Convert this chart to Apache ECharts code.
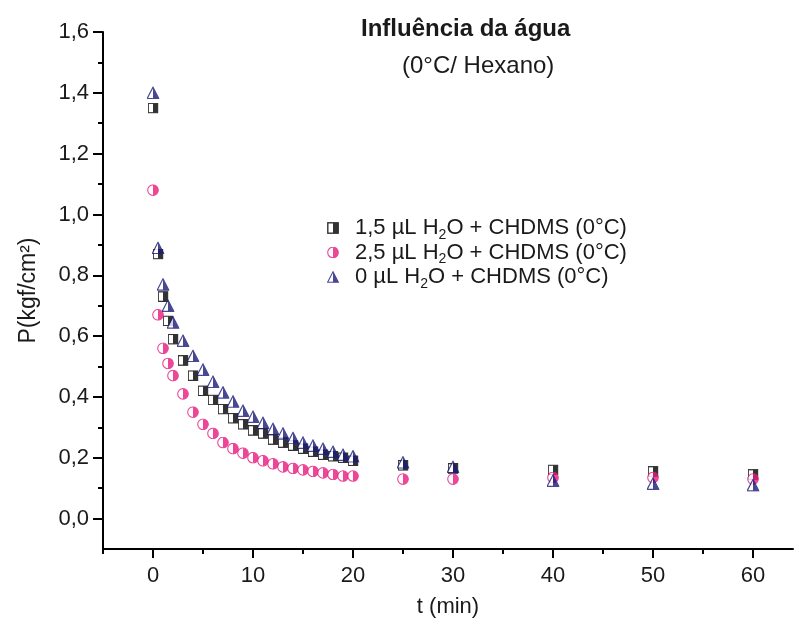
<!DOCTYPE html>
<html>
<head>
<meta charset="utf-8">
<script src="https://cdn.jsdelivr.net/npm/echarts@6/dist/echarts.min.js"></script>
<style>html,body{margin:0;padding:0;background:#fff}#c{width:799px;height:633px}</style>
</head>
<body>
<div id="c"></div>
<script>
const timeMin = [0,0.5,1,1.5,2,3,4,5,6,7,8,9,10,11,12,13,14,15,16,17,18,19,20,25,30,40,50,60];
const water15 = [1.35,0.87,0.73,0.65,0.59,0.52,0.47,0.42,0.39,0.36,0.33,0.31,0.29,0.28,0.26,0.25,0.24,0.23,0.22,0.21,0.205,0.20,0.19,0.175,0.165,0.16,0.155,0.145];
const water25 = [1.08,0.67,0.56,0.51,0.47,0.41,0.35,0.31,0.28,0.25,0.23,0.215,0.20,0.19,0.18,0.17,0.165,0.16,0.155,0.15,0.145,0.14,0.14,0.13,0.13,0.135,0.135,0.13];
const water0 = [1.40,0.89,0.77,0.70,0.645,0.585,0.535,0.49,0.45,0.415,0.385,0.355,0.335,0.315,0.295,0.28,0.265,0.25,0.24,0.23,0.22,0.21,0.205,0.185,0.17,0.125,0.115,0.11];
const seriesNames = ['1,5 µL H2O + CHDMS (0°C)','2,5 µL H2O + CHDMS (0°C)','0 µL H2O + CHDMS (0°C)'];
const xMajorTicks = [0,10,20,30,40,50,60];
const xMinorTicks = [-5,5,15,25,35,45,55];
const yMajorTicks = [0,0.2,0.4,0.6,0.8,1.0,1.2,1.4,1.6];
const yMinorTicks = [0.1,0.3,0.5,0.7,0.9,1.1,1.3,1.5];

function svgSym(svg){ return 'image://data:image/svg+xml;charset=utf-8,' + encodeURIComponent(svg); }
const symSquare = svgSym('<svg xmlns="http://www.w3.org/2000/svg" width="24" height="24" viewBox="0 0 12 12"><rect x="0.8" y="0.8" width="10.4" height="10.4" fill="#fff" stroke="#000" stroke-width="1.4"/><rect x="6" y="0.8" width="5.2" height="10.4" fill="#000"/></svg>');
const symCircle = svgSym('<svg xmlns="http://www.w3.org/2000/svg" width="24" height="24" viewBox="0 0 12 12"><circle cx="6" cy="6" r="5.3" fill="#fff" stroke="#e8197e" stroke-width="1.1"/><path d="M6,0.7 A5.3,5.3 0 0 1 6,11.3 Z" fill="#e8197e"/></svg>');
const symTri = svgSym('<svg xmlns="http://www.w3.org/2000/svg" width="24" height="24" viewBox="0 0 12 12"><polygon points="6,0.8 11.4,11.3 0.6,11.3" fill="#fff" stroke="#1b1b78" stroke-width="1.1" stroke-linejoin="miter"/><polygon points="6,0.8 11.4,11.3 6,11.3" fill="#1b1b78"/></svg>');

function pairs(xs, ys){ return xs.map((x,i)=>[x, ys[i]]); }
const font = 'Liberation Sans, Arial, sans-serif';
const txt = '#1a1a1a';

const chart = echarts.init(document.getElementById('c'), null, {renderer:'canvas'});
chart.setOption({
  animation: false,
  backgroundColor: '#fff',
  title: [
    {text: 'Influência da água', left: 361, top: 17, padding: 0, textStyle: {fontFamily: font, fontSize: 24, fontWeight: 'bold', color: txt}},
    {text: '(0°C/ Hexano)', left: 402, top: 54, padding: 0, textStyle: {fontFamily: font, fontSize: 24, fontWeight: 'normal', color: txt}}
  ],
  legend: {
    orient: 'vertical', left: 327, top: 214, padding: 0, itemGap: -3.5, itemWidth: 12, itemHeight: 12,
    data: seriesNames,
    formatter: function(n){ return '{a|' + n.replace('H2O', 'H}{s|2}{a|O') + '}'; },
    textStyle: {
      fontFamily: font, fontSize: 22, color: txt, padding: [0,0,0,11],
      rich: {
        a: {fontFamily: font, fontSize: 22, color: txt, lineHeight: 22},
        s: {fontFamily: font, fontSize: 14, color: txt, lineHeight: 14, padding: [14,0,0,0]}
      }
    }
  },
  grid: {left: 103, right: 6, top: 32, bottom: 84, containLabel: false},
  xAxis: [
    {type: 'value', min: -5, max: 64, position: 'bottom',
     name: 't (min)', nameLocation: 'middle', nameGap: 47,
     nameTextStyle: {fontFamily: font, fontSize: 22, color: txt},
     axisLine: {show: true, onZero: false, lineStyle: {color: '#000', width: 2}},
     axisTick: {show: true, inside: false, length: 9, customValues: xMajorTicks, lineStyle: {color: '#000', width: 2}},
     axisLabel: {show: true, customValues: xMajorTicks, margin: 16, fontFamily: font, fontSize: 22, color: txt},
     splitLine: {show: false}},
    {type: 'value', min: -5, max: 64, position: 'bottom',
     axisLine: {show: false, onZero: false},
     axisTick: {show: true, inside: false, length: 5, customValues: xMinorTicks, lineStyle: {color: '#000', width: 2}},
     axisLabel: {show: false}, splitLine: {show: false}}
  ],
  yAxis: [
    {type: 'value', min: -0.1, max: 1.6, position: 'left',
     name: 'P(kgf/cm²)', nameLocation: 'middle', nameGap: 63, nameRotate: 90,
     nameTextStyle: {fontFamily: font, fontSize: 23, color: txt},
     axisLine: {show: true, onZero: false, lineStyle: {color: '#000', width: 2}},
     axisTick: {show: true, inside: false, length: 10, customValues: yMajorTicks, lineStyle: {color: '#000', width: 2}},
     axisLabel: {show: true, customValues: yMajorTicks, margin: 14, fontFamily: font, fontSize: 22, color: txt,
       formatter: v => v.toFixed(1).replace('.', ',')},
     splitLine: {show: false}},
    {type: 'value', min: -0.1, max: 1.6, position: 'left',
     axisLine: {show: false, onZero: false},
     axisTick: {show: true, inside: false, length: 5, customValues: yMinorTicks, lineStyle: {color: '#000', width: 2}},
     axisLabel: {show: false}, splitLine: {show: false}}
  ],
  series: [
    {name: seriesNames[0], type: 'scatter', xAxisIndex: 0, yAxisIndex: 0, data: pairs(timeMin, water15), symbol: symSquare, symbolSize: 11, itemStyle: {color: '#000'}},
    {name: seriesNames[1], type: 'scatter', xAxisIndex: 0, yAxisIndex: 0, data: pairs(timeMin, water25), symbol: symCircle, symbolSize: 12, itemStyle: {color: '#e8197e'}},
    {name: seriesNames[2], type: 'scatter', xAxisIndex: 0, yAxisIndex: 0, data: pairs(timeMin, water0), symbol: symTri, symbolSize: 13, itemStyle: {color: '#1b1b78'}}
  ]
});
</script>
</body>
</html>
